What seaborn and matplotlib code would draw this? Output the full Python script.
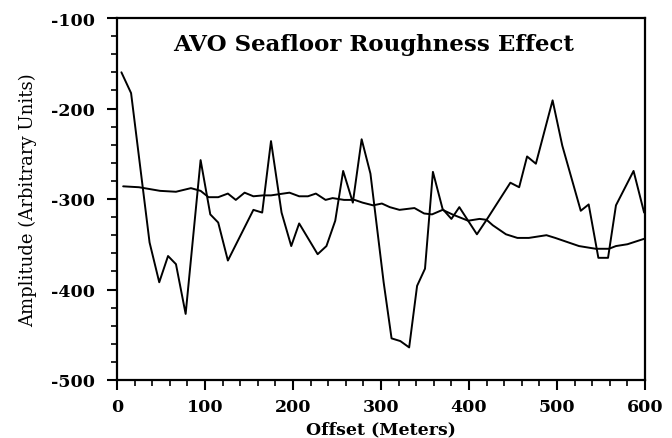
import matplotlib
matplotlib.use("Agg")
import matplotlib.pyplot as plt
import seaborn as sns
import pandas as pd
from matplotlib.ticker import MultipleLocator

# Data
rough_x = [5, 16, 37, 48, 58, 67, 78, 95, 106, 115, 126, 155, 165, 175, 187, 198, 207, 228, 238, 248,
           257, 268, 278, 288, 303, 312, 322, 332, 341, 350, 359, 370, 380, 389, 409, 420, 447, 457, 466, 476,
           495, 506, 527, 536, 547, 558, 567, 587, 599]
rough_y = [-160, -183, -348, -392, -363, -372, -427, -257, -317, -326, -368, -312, -315, -236, -315, -352, -327, -361, -352, -324,
           -269, -304, -234, -272, -392, -454, -457, -464, -396, -377, -270, -311, -322, -309, -339, -323, -282, -287, -253, -261,
           -191, -241, -313, -306, -365, -365, -307, -269, -315]
smooth_x = [7, 25, 49, 67, 84, 95, 104, 115, 126, 135, 145, 155, 166, 175, 196, 207, 217, 226, 237, 245,
            258, 270, 279, 291, 301, 310, 321, 338, 349, 358, 370, 381, 399, 412, 420, 427, 442, 455, 468, 488,
            498, 510, 525, 544, 559, 567, 580, 599]
smooth_y = [-286, -287, -291, -292, -288, -291, -298, -298, -294, -301, -293, -297, -296, -296, -293, -297, -297, -294, -301, -299,
            -301, -301, -304, -307, -305, -309, -312, -310, -316, -317, -312, -317, -324, -322, -323, -329, -339, -343, -343, -340,
            -343, -347, -352, -355, -355, -352, -350, -344]

title = "AVO Seafloor Roughness Effect"
xlabel = "Offset (Meters)"
ylabel = "Amplitude (Arbitrary Units)"

sns.set_style("ticks")
plt.rcParams['font.family'] = ['DejaVu Serif']
plt.rcParams['axes.unicode_minus'] = False
plt.rcParams['text.color'] = 'black'
plt.rcParams['axes.labelcolor'] = 'black'

fig, ax = plt.subplots(figsize=(6.72, 4.39), dpi=100)
fig.subplots_adjust(left=117/672, right=645/672, bottom=1-381/439, top=1-19/439)

df_r = pd.DataFrame({"x": rough_x, "y": rough_y})
df_s = pd.DataFrame({"x": smooth_x, "y": smooth_y})
sns.lineplot(data=df_s, x="x", y="y", ax=ax, color="black", linewidth=1.4, estimator=None, sort=False)
sns.lineplot(data=df_r, x="x", y="y", ax=ax, color="black", linewidth=1.4, estimator=None, sort=False)

ax.set_xlim(0, 600)
ax.set_ylim(-500, -100)
ax.xaxis.set_major_locator(MultipleLocator(100))
ax.xaxis.set_minor_locator(MultipleLocator(20))
ax.yaxis.set_major_locator(MultipleLocator(100))
ax.yaxis.set_minor_locator(MultipleLocator(20))
ax.tick_params(which="major", direction="out", length=7, width=1.5, labelsize=12.5, colors="black")
ax.tick_params(axis="x", which="major", pad=6)
ax.tick_params(axis="y", which="major", pad=9)
ax.tick_params(which="minor", direction="out", length=4.5, width=1.2, colors="black")
for lab in ax.get_xticklabels() + ax.get_yticklabels():
    lab.set_fontweight("bold")
for s in ax.spines.values():
    s.set_visible(True)
    s.set_linewidth(1.6)
    s.set_color("black")

ax.set_xlabel(xlabel, fontsize=12.5, fontweight="bold", labelpad=4)
ax.set_ylabel(ylabel, fontsize=13, labelpad=10)
ax.text(0.485, 0.928, title, transform=ax.transAxes, ha="center", va="center",
        fontsize=16.5, fontweight="bold", color="black")

fig.savefig("out.png", dpi=100)
